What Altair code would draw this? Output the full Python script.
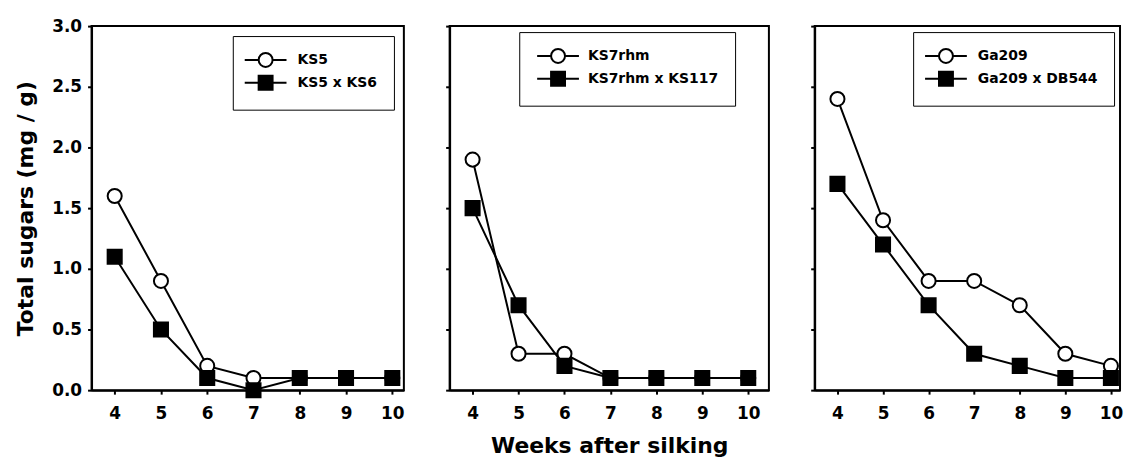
import altair as alt
import pandas as pd

weeks = [4, 5, 6, 7, 8, 9, 10]
y_ticks = [0.0, 0.5, 1.0, 1.5, 2.0, 2.5, 3.0]

ks5 = [1.6, 0.9, 0.2, 0.1, 0.1, 0.1, 0.1]
ks5_ks6 = [1.1, 0.5, 0.1, 0.0, 0.1, 0.1, 0.1]
ks7rhm = [1.9, 0.3, 0.3, 0.1, 0.1, 0.1, 0.1]
ks7rhm_ks117 = [1.5, 0.7, 0.2, 0.1, 0.1, 0.1, 0.1]
ga209 = [2.4, 1.4, 0.9, 0.9, 0.7, 0.3, 0.2]
ga209_db544 = [1.7, 1.2, 0.7, 0.3, 0.2, 0.1, 0.1]

names_1 = ["KS5", "KS5 x KS6"]
names_2 = ["KS7rhm", "KS7rhm x KS117"]
names_3 = ["Ga209", "Ga209 x DB544"]

FONT = "DejaVu Sans"
CIRCLE_PATH = "M-3,0H-1M1,0H3M-1,0A1,1,0,1,1,1,0A1,1,0,1,1,-1,0Z"
SQUARE_PATH = "M-3,0H-1M1,0H3M-1,-1H1V1H-1Z"
NBSP = "\u00a0" * 5


def panel(names, a, b, width, xmax, first, xtitle, leg_pos):
    df = pd.DataFrame({
        "week": weeks * 2,
        "value": a + b,
        "series": [names[0]] * len(weeks) + [names[1]] * len(weeks),
    })
    base = alt.Chart(df)
    x = alt.X("week:Q",
              scale=alt.Scale(domain=[3.5, xmax], nice=False, zero=False),
              axis=alt.Axis(values=weeks, title=xtitle, format="d",
                            labelPadding=11, titlePadding=15))
    if first:
        yaxis = alt.Axis(values=y_ticks, format=".1f", title="Total sugars (mg / g)",
                         labelPadding=6, titlePadding=14)
    else:
        yaxis = alt.Axis(values=y_ticks, labels=False, title=None)
    y = alt.Y("value:Q", scale=alt.Scale(domain=[0, 3], nice=False), axis=yaxis)

    lines = base.mark_line(color="black", strokeWidth=2).encode(
        x=x, y=y, detail="series:N")
    points = base.mark_point(filled=True, size=200, stroke="black",
                             strokeWidth=2, opacity=1).encode(
        x=x, y=y,
        shape=alt.Shape("series:N", scale=alt.Scale(domain=names, range=["circle", "square"]),
                        legend=None),
        fill=alt.Fill("series:N", scale=alt.Scale(domain=names, range=["white", "black"]),
                      legend=None),
    )
    common = dict(title=None, strokeColor="black", fillColor="white", padding=16,
                  rowPadding=1, labelFont=FONT, labelFontSize=14,
                  labelFontWeight="bold", labelColor="black", symbolStrokeWidth=2,
                  symbolSize=196, labelLimit=400)
    if leg_pos[0] == "none":
        legend = alt.Legend(orient="none", legendX=leg_pos[1], legendY=leg_pos[2],
                            symbolOffset=15, labelOffset=22,
                            labelExpr="datum.label + '" + NBSP + "'", **common)
    else:
        legend = alt.Legend(orient="top-right", offset=leg_pos[1],
                            symbolOffset=9, labelOffset=24, **common)
    leg = base.transform_filter("datum.value > 100").mark_point(
        filled=False, size=196, strokeWidth=2, opacity=1).encode(
        x=x, y=y,
        shape=alt.Shape("series:N", scale=alt.Scale(domain=names, range=[CIRCLE_PATH, SQUARE_PATH]),
                        legend=legend),
        fill=alt.Fill("series:N", scale=alt.Scale(domain=names, range=["white", "black"]),
                      legend=legend),
        stroke=alt.Stroke("series:N", scale=alt.Scale(domain=names, range=["black", "black"]),
                          legend=legend),
    )
    return alt.layer(lines, points, leg).resolve_scale(
        shape="independent", fill="independent", stroke="independent"
    ).properties(width=width, height=366)


p1 = panel(names_1, ks5, ks5_ks6, 314, 10.25, True, None, ("top-right", 10))
p2 = panel(names_2, ks7rhm, ks7rhm_ks117, 321, 10.45, False, "Weeks after silking",
           ("none", 70, 6))
p3 = panel(names_3, ga209, ga209_db544, 307, 10.2, False, None, ("top-right", 6))

chart = alt.hconcat(p1, p2, p3, spacing=46, bounds="flush").properties(
    padding={"left": 5, "top": 7, "right": 0, "bottom": 0}
).configure_view(
    stroke="black", strokeWidth=2
).configure_axis(
    labelFont=FONT, labelFontSize=17, labelFontWeight="bold", labelColor="black",
    titleFont=FONT, titleFontSize=22, titleFontWeight="bold", titleColor="black",
    domainColor="black", domainWidth=2, tickColor="black", tickWidth=2, tickSize=4,
    grid=False
)

chart.save("out.html", embed_options={"renderer": "svg", "actions": False})
